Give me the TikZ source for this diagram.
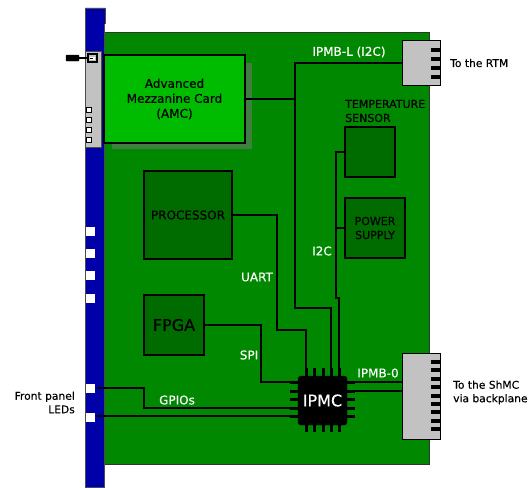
\documentclass[tikz,border=0pt]{standalone}
\usepackage{fontspec}
\setmainfont[FakeBold=0.4]{DejaVu Sans}
\definecolor{board}{HTML}{008800}
\definecolor{panel}{HTML}{0000A8}
\definecolor{grayc}{HTML}{C2C2C2}
\definecolor{amcg}{HTML}{00BC00}
\definecolor{chipg}{HTML}{006C00}
\definecolor{amcshadow}{HTML}{3F7F3F}
\tikzset{x=1pt,y=-1pt,
  wire/.style={draw=black,line width=2pt},
  chipbox/.style={draw=black,line width=1.6pt,fill=chipg},
  lbl/.style={font=\fontsize{12pt}{14pt}\selectfont,text=white,inner sep=0pt},
  txt/.style={font=\fontsize{10.7pt}{13.5pt}\selectfont,text=black,inner sep=0pt},
  pin/.style={fill=black,draw=none},
  led/.style={fill=white,draw=none,minimum size=9pt,inner sep=0pt},
  tabbox/.style={fill=white,draw=black,line width=.6pt}
}
\begin{document}
\begin{tikzpicture}
\useasboundingbox (0,0) rectangle (529,487);
% board and panel
\draw[fill=board,draw=black!80,line width=.8pt] (104,32) rectangle (429,464);
\draw[fill=panel,draw=black!70,line width=.6pt] (85,8) rectangle (104,487);
\draw[fill=panel,draw=black!70,line width=.6pt] (105,24) -- (105,8) -- (85,8);
% handle
\draw[fill=grayc,draw=black!70,line width=.6pt] (85,51) rectangle (101,147);
\foreach \yy in {107,117,127,137}{\draw[tabbox] (86,\yy) rectangle (91,\yy+5);}
\draw[fill=black,rounded corners=.6pt] (66,55) rectangle (79,61);
\draw[line width=1.3pt] (79,58) -- (92,58);
\draw[line width=1.2pt,fill=grayc] (88,54) rectangle (97,62);
\fill[white] (90,57) rectangle (95,60);
\draw[line width=.8pt] (90,58) -- (93,58);
% AMC
\fill[amcshadow] (112,63) rectangle (252,149);
\node[draw=black,line width=1.6pt,fill=amcg,minimum width=141pt,minimum height=88pt,inner sep=0pt,align=center,font=\fontsize{12pt}{15pt}\selectfont] (amc) at (174.5,99) {Advanced\\Mezzanine Card\\(AMC)};
% blocks
\node[chipbox,minimum width=88pt,minimum height=88pt,inner sep=0pt,font=\fontsize{12pt}{14pt}\selectfont] (proc) at (188,215) {PROCESSOR};
\node[chipbox,minimum width=60pt,minimum height=60pt,inner sep=0pt,font=\fontsize{16pt}{18pt}\selectfont] (fpga) at (174,325) {FPGA};
\node[chipbox,minimum width=50pt,minimum height=50pt,inner sep=0pt] (temp) at (370,152) {};
\node[chipbox,minimum width=60pt,minimum height=60pt,inner sep=0pt,align=center,font=\fontsize{11pt}{14pt}\selectfont] (pwr) at (375,228) {POWER\\SUPPLY};
% connectors
\node[draw=black,line width=1pt,fill=grayc,minimum width=38pt,minimum height=44pt,inner sep=0pt] (rtm) at (421,63) {};
\foreach \yy in {48,57,66,75}{\fill[pin] (431,\yy) rectangle (440,\yy+4);}
\node[draw=black,line width=1pt,fill=grayc,minimum width=38pt,minimum height=86pt,inner sep=0pt] (shmc) at (421,396) {};
\foreach \yy in {360,368.4,376.8,385.2,393.6,402,410.4,418.8,427.2}{\fill[pin] (431,\yy) rectangle (440,\yy+4);}
% LEDs
\node[led] (leda) at (90.5,231) {};
\node[led] (ledb) at (90.5,253) {};
\node[led] (ledc) at (90.5,275) {};
\node[led] (ledd) at (90.5,298) {};
\node[led] (lede) at (90.5,388) {};
\node[led] (ledf) at (90.5,417) {};
% chip pins
\foreach \p in {306,314,323,331,339}{\draw[line width=3pt] (\p,368) -- (\p,432);}
\foreach \p in {382,391,399,408,416}{\draw[line width=3pt] (290,\p) -- (355,\p);}
\node[fill=black,draw=black,rounded corners=3pt,minimum width=49pt,minimum height=49pt,inner sep=0pt,text=white,font=\fontsize{16pt}{18pt}\selectfont] (ipmc) at (322.5,400.5) {IPMC};
% wires
\draw[wire] (temp.west) -- (336,152) -- (336,298) -- (339,298) -- (339,368);
\draw[wire] (pwr.west) -- (336,228);
\draw[wire] (rtm.west) -- (295,63) -- (295,308) -- (331,308) -- (331,368);
\draw[wire] (amc.east) -- (295,99);
\draw[wire] (proc.east) -- (277,215) -- (277,330) -- (306,330) -- (306,368);
\draw[wire] (fpga.east) -- (261,325) -- (261,382) -- (ipmc.west |- 0,382);
\draw[wire] (ipmc.east |- 0,382) -- (shmc.west |- 0,382);
\draw[wire] (ipmc.east |- 0,391) -- (shmc.west |- 0,391);
\draw[wire] ([xshift=2pt]lede.east) -- (144,388) -- (144,408) -- (ipmc.west |- 0,408);
\draw[wire] ([xshift=2pt]ledf.east |- 0,416) -- (ipmc.west |- 0,416);
% labels
\node[lbl] (l1) at (349,52) {IPMB-L (I2C)};
\node[lbl] (l2) at (257,277) {UART};
\node[lbl] (l3) at (322,251) {I2C};
\node[lbl] (l4) at (249,355) {SPI};
\node[lbl] (l5) at (177,400) {GPIOs};
\node[lbl] (l6) at (378,373) {IPMB-0};
\node[txt,anchor=west] (t1) at (450,63) {To the RTM};
\node[txt,anchor=west,align=left] (t2) at (453,392.5) {To the ShMC\\via backplane};
\node[txt,anchor=east,align=right] (t3) at (75,402.5) {Front panel\\LEDs};
\node[txt,anchor=west,align=left,font=\fontsize{11pt}{14pt}\selectfont] (t4) at (345,111) {TEMPERATURE\\SENSOR};
\end{tikzpicture}
\end{document}
